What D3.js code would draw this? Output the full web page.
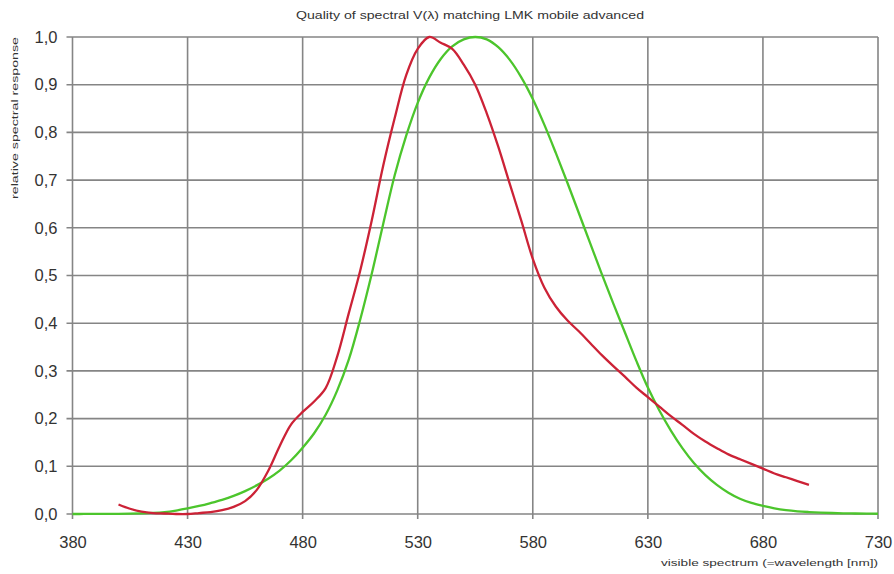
<!DOCTYPE html>
<html>
<head>
<meta charset="utf-8">
<script src="https://cdn.jsdelivr.net/npm/d3@7"></script>
<style>
  body { margin: 0; background: #fff; }
  text { font-family: "Liberation Sans", Arial, sans-serif; fill: #333; }
</style>
</head>
<body>
<div id="chart"></div>
<script>
// wavelengths in nm, 5 nm steps
const wavelengthsV = d3.range(380, 731, 5);
// CIE photopic V(lambda), 380..730
const vLambda = [0.000039, 0.000064, 0.00012, 0.000217, 0.000396, 0.00064, 0.00121, 0.00218,
  0.004, 0.0073, 0.0116, 0.01684, 0.023, 0.0298, 0.038, 0.048, 0.06, 0.0739, 0.091, 0.1126,
  0.139, 0.1693, 0.208, 0.2586, 0.323, 0.4073, 0.503, 0.6082, 0.71, 0.7932, 0.862, 0.9149,
  0.954, 0.9803, 0.995, 1.0, 0.995, 0.9786, 0.952, 0.9154, 0.87, 0.8163, 0.757, 0.6949,
  0.631, 0.5668, 0.503, 0.4412, 0.381, 0.321, 0.265, 0.217, 0.175, 0.1382, 0.107, 0.0816,
  0.061, 0.0446, 0.032, 0.0232, 0.017, 0.0119, 0.0082, 0.0057, 0.0041, 0.0029, 0.0021,
  0.0015, 0.001, 0.0007, 0.0005];

// measured response of the LMK mobile advanced, 400..700
const wavelengthsLmk = d3.range(400, 701, 5);
const lmkResponse = [0.020, 0.011, 0.005, 0.002, 0.001, 0.000, 0.000, 0.002, 0.004, 0.008,
  0.015, 0.027, 0.050, 0.090, 0.142, 0.188, 0.214, 0.236, 0.264, 0.330, 0.420, 0.510,
  0.615, 0.730, 0.830, 0.920, 0.975, 1.000, 0.988, 0.975, 0.942, 0.900, 0.840, 0.770,
  0.692, 0.615, 0.535, 0.475, 0.435, 0.406, 0.383, 0.358, 0.333, 0.310, 0.288, 0.265,
  0.245, 0.225, 0.205, 0.187, 0.168, 0.152, 0.138, 0.125, 0.115, 0.105, 0.095, 0.085,
  0.077, 0.069, 0.061];

const xTicks = [380, 430, 480, 530, 580, 630, 680, 730];
const yTicks = d3.range(0, 11).map(d => d / 10);

let width = 894;
let height = 574;
let margin = { top: 37, bottom: 60, left: 72.5, right: 16 };

let svg = d3.select('#chart')
            .append('svg')
            .attr('width', width)
            .attr('height', height);

let xScale = d3.scaleLinear()
               .domain([380, 730])
               .range([margin.left, width - margin.right]);
let yScale = d3.scaleLinear()
               .domain([0, 1])
               .range([height - margin.bottom, margin.top]);

// grid
svg.append('g')
   .selectAll('line')
   .data(xTicks)
   .enter()
   .append('line')
   .attr('x1', d => xScale(d))
   .attr('x2', d => xScale(d))
   .attr('y1', yScale(1))
   .attr('y2', yScale(0) + 5)
   .attr('stroke', '#858585')
   .attr('stroke-width', 1.6);

svg.append('g')
   .selectAll('line')
   .data(yTicks)
   .enter()
   .append('line')
   .attr('x1', xScale(380) - 6)
   .attr('x2', xScale(730))
   .attr('y1', d => yScale(d))
   .attr('y2', d => yScale(d))
   .attr('stroke', '#858585')
   .attr('stroke-width', 1.6);

// axes (labels only, lines come from the grid)
let xAxis = svg.append('g')
   .attr('transform', `translate(0, ${yScale(0)})`)
   .call(d3.axisBottom(xScale).tickValues(xTicks).tickFormat(d3.format('d')).tickSize(0).tickPadding(22));
let yAxis = svg.append('g')
   .attr('transform', `translate(${margin.left}, 0)`)
   .call(d3.axisLeft(yScale).tickValues(yTicks).tickFormat(d => d.toFixed(1).replace('.', ',')).tickSize(0).tickPadding(15));
svg.selectAll('.domain').remove();
svg.selectAll('.tick text')
   .style('font-family', '"Liberation Sans", Arial, sans-serif')
   .style('font-size', '16.5px')
   .attr('fill', '#333');

// curves
let line = d3.line()
    .x(d => xScale(d[0]))
    .y(d => yScale(d[1]))
    .curve(d3.curveCatmullRom);

svg.append('path')
   .datum(wavelengthsV.map((w, i) => [w, vLambda[i]]))
   .attr('fill', 'none')
   .attr('stroke', '#4cc52c')
   .attr('stroke-width', 2.3)
   .attr('d', line);

svg.append('path')
   .datum(wavelengthsLmk.map((w, i) => [w, lmkResponse[i]]))
   .attr('fill', 'none')
   .attr('stroke', '#cc2236')
   .attr('stroke-width', 2.3)
   .attr('d', line);

// titles
svg.append('text')
   .attr('x', 470)
   .attr('y', 19)
   .attr('text-anchor', 'middle')
   .attr('textLength', 348)
   .attr('lengthAdjust', 'spacingAndGlyphs')
   .style('font-size', '11px')
   .text('Quality of spectral V(λ) matching LMK mobile advanced');

svg.append('text')
   .attr('transform', 'translate(18, 118) rotate(-90)')
   .attr('text-anchor', 'middle')
   .attr('textLength', 162)
   .attr('lengthAdjust', 'spacingAndGlyphs')
   .style('font-size', '9px')
   .text('relative spectral response');

svg.append('text')
   .attr('x', 878)
   .attr('y', 566)
   .attr('text-anchor', 'end')
   .attr('textLength', 217)
   .attr('lengthAdjust', 'spacingAndGlyphs')
   .style('font-size', '9px')
   .text('visible spectrum (=wavelength [nm])');
</script>
</body>
</html>
